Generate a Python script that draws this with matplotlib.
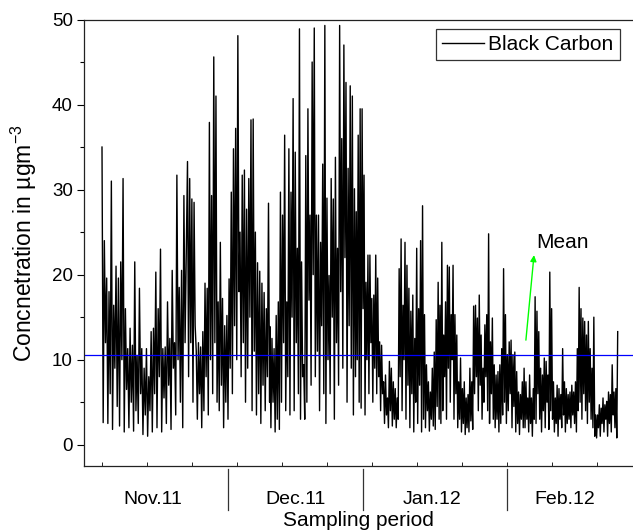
import numpy as np
import matplotlib
matplotlib.use("Agg")
import matplotlib.pyplot as plt
from matplotlib import transforms

plt.rcParams['font.family'] = ['Liberation Sans', 'DejaVu Sans']
plt.rcParams['mathtext.fontset'] = 'custom'
plt.rcParams['mathtext.rm'] = 'Liberation Sans'
plt.rcParams['mathtext.it'] = 'Liberation Sans:italic'

# ---------------- data ----------------
months = ['Nov.11', 'Dec.11', 'Jan.12', 'Feb.12']
month_bounds = [32.0, 62.0, 94.0]          # day of month change
month_centres = [15.3, 47.1, 77.3, 106.9]  # day at label centre
seg_spans = [(4.0, 22.2), (23.0, 41.0), (41.3, 60.1),
             (60.5, 78.7), (79.1, 97.4), (97.8, 118.6)]

peaks_a = [35.0, 24.0, 19.6, 18.0, 31.0, 16.4, 21.0, 19.6, 21.5, 31.3,
           16.0, 11.3, 13.7, 11.7, 21.5, 10.5, 18.4, 11.3, 9.0, 11.3,
           8.0, 13.3, 13.7, 20.3, 16.0, 23.0, 11.3, 11.5, 16.8, 12.5,
           20.5, 12.0, 31.7, 18.5, 20.5, 29.3]
troughs_a = [2.6, 12.0, 2.5, 6.0, 1.8, 9.0, 4.5, 2.2, 10.0, 1.5,
             6.5, 2.0, 5.0, 1.6, 4.0, 2.5, 6.0, 1.2, 3.5, 1.0,
             4.0, 1.5, 6.0, 2.0, 8.0, 1.5, 5.5, 2.5, 7.0, 1.8,
             9.0, 3.5, 10.0, 5.0, 2.0, 12.0]

peaks_b = [33.3, 31.3, 28.9, 28.5, 11.0, 12.0, 11.5, 13.3, 19.0, 18.4,
           37.9, 29.3, 45.6, 41.0, 16.8, 23.8, 17.2, 14.0, 15.2, 19.5,
           29.7, 34.8, 37.2, 48.1, 25.0, 31.7, 32.3, 27.7, 31.3, 38.2,
           38.3, 25.0, 21.4, 20.4, 19.0, 17.9, 16.0, 28.4]
troughs_b = [8.0, 12.0, 5.0, 14.0, 3.0, 6.0, 2.0, 4.0, 8.0, 3.5,
             10.0, 6.0, 12.0, 5.0, 4.0, 7.0, 2.0, 5.0, 3.0, 9.0,
             6.0, 14.0, 10.0, 18.0, 8.0, 12.0, 5.0, 9.0, 15.0, 4.0,
             11.0, 3.5, 6.0, 2.5, 7.0, 4.0, 8.0, 5.0]

peaks_c = [13.9, 12.5, 11.3, 15.2, 16.8, 29.7, 27.0, 36.4, 16.8, 34.8,
           29.7, 40.7, 34.4, 23.1, 48.9, 21.5, 9.4, 34.0, 39.5, 27.0,
           45.0, 49.0, 27.0, 27.0, 23.8, 33.0, 49.3, 29.0, 19.9, 31.3,
           28.9, 33.8, 23.1, 49.3, 36.0, 47.0, 42.6, 32.5, 42.2, 41.0,
           30.1]
troughs_c = [2.0, 5.0, 1.5, 3.0, 1.8, 5.0, 12.0, 4.0, 8.0, 3.5,
             15.0, 4.0, 12.0, 6.0, 3.0, 8.0, 3.0, 5.0, 17.0, 7.0,
             20.0, 8.0, 11.0, 4.0, 14.0, 6.0, 2.5, 10.0, 6.0, 15.0,
             3.0, 12.0, 7.0, 18.0, 9.0, 22.0, 5.0, 14.0, 9.0, 3.5,
             8.0]

peaks_d = [27.4, 36.4, 39.5, 39.5, 31.7, 19.1, 22.3, 22.3, 17.2, 17.6,
           22.3, 19.6, 12.1, 11.7, 7.4, 8.2, 5.5, 9.8, 9.0, 7.4,
           6.6, 5.5, 20.7, 24.2, 16.4, 23.8, 21.1, 18.4, 15.7, 17.6,
           12.5, 23.1, 16.0, 24.0, 28.1, 15.3, 9.4, 7.4, 6.2, 9.0,
           10.9, 14.7, 19.1]
troughs_d = [10.0, 5.0, 4.3, 16.0, 3.5, 10.0, 6.0, 12.0, 5.0, 9.0,
             6.0, 8.0, 4.0, 6.0, 2.5, 3.5, 2.0, 4.0, 2.2, 3.0,
             2.0, 3.0, 8.0, 4.0, 10.0, 3.0, 7.0, 2.0, 6.0, 1.5,
             5.0, 2.5, 7.0, 1.5, 3.0, 2.0, 4.0, 1.6, 3.0, 2.2,
             1.8, 4.5, 3.0]

peaks_e = [16.4, 23.8, 12.9, 16.8, 21.1, 20.9, 15.3, 21.1, 15.3, 12.9,
           7.4, 10.2, 6.6, 7.4, 5.5, 5.9, 9.0, 7.4, 16.3, 16.4,
           14.9, 17.6, 12.9, 9.0, 14.1, 15.3, 24.8, 12.1, 14.9, 9.4,
           8.2, 8.6, 9.4, 11.3, 20.7, 15.3, 10.6, 12.1, 12.3, 10.6,
           10.9, 8.6, 6.2, 5.9, 7.4]
troughs_e = [2.5, 4.0, 8.0, 3.0, 9.0, 5.0, 10.0, 3.0, 6.0, 2.0,
             3.0, 1.5, 2.5, 1.2, 2.0, 1.5, 2.8, 1.8, 6.0, 8.0,
             4.0, 7.0, 3.0, 5.0, 8.0, 4.0, 2.5, 6.0, 3.0, 2.0,
             3.0, 1.5, 2.5, 3.5, 5.0, 2.5, 4.0, 6.0, 2.0, 4.5,
             1.5, 2.5, 1.2, 3.0, 2.0]

peaks_f = [9.0, 7.4, 5.5, 8.2, 5.5, 6.6, 17.4, 15.7, 13.3, 9.0,
           8.2, 10.2, 9.8, 8.2, 20.3, 16.0, 7.4, 5.5, 7.0, 6.6,
           5.9, 11.3, 7.4, 6.6, 5.9, 6.2, 7.0, 6.2, 7.4, 11.3,
           18.5, 16.0, 14.9, 14.5, 12.9, 14.5, 11.3, 9.0, 15.0, 3.5,
           3.5, 4.7, 4.3, 5.5, 4.7, 5.1, 6.2, 5.9, 9.4, 6.2,
           6.6, 13.3]
troughs_f = [2.0, 3.0, 1.5, 2.5, 1.0, 3.0, 2.5, 6.0, 3.0, 1.5,
             4.0, 2.0, 5.0, 1.8, 4.0, 3.0, 1.5, 2.5, 1.0, 3.0,
             2.0, 3.5, 1.5, 2.5, 3.0, 2.0, 3.5, 2.5, 1.5, 4.0,
             5.0, 3.0, 6.0, 4.0, 2.5, 5.0, 3.0, 2.0, 1.0, 0.8,
             2.0, 1.0, 2.5, 1.5, 3.0, 1.0, 2.5, 1.5, 3.5, 2.0,
             0.8, 0.8]

mean_bc = 10.6
mean_arrow_from = (98.2, 12.3)
mean_arrow_to = (100.0, 22.3)
mean_text_pos = (100.4, 23.8)

all_peaks = [peaks_a, peaks_b, peaks_c, peaks_d, peaks_e, peaks_f]
all_troughs = [troughs_a, troughs_b, troughs_c, troughs_d, troughs_e, troughs_f]

# ---------------- build the series ----------------
t_all, v_all = [], []
for (s, e), pk, tr in zip(seg_spans, all_peaks, all_troughs):
    n = len(pk)
    tp = np.linspace(s, e, n)
    step = (e - s) / (n - 1)
    for i in range(n):
        t_all += [tp[i], tp[i] + step / 2]
        v_all += [pk[i], tr[i]]
t_all = np.array(t_all[:-1])
v_all = np.array(v_all[:-1])

# ---------------- figure ----------------
fig = plt.figure(figsize=(6.33, 5.32), dpi=100)
ax = fig.add_axes([84 / 633, 1 - 466 / 532, 549 / 633, 446.5 / 532])

ax.plot(t_all, v_all, color='black', lw=1.0, label='Black Carbon')
ax.axhline(mean_bc, color='#0000ff', lw=0.9)

ax.set_xlim(0, 122)
ax.set_ylim(-2.5, 50)

ax.spines['right'].set_visible(False)
for sp in ['left', 'bottom', 'top']:
    ax.spines[sp].set_linewidth(0.9)
    ax.spines[sp].set_color('#222222')

ax.set_yticks([0, 10, 20, 30, 40, 50])
ax.set_yticks([5, 15, 25, 35, 45], minor=True)
ax.tick_params(axis='y', which='major', direction='out', length=5, width=0.8,
               labelsize=13.5, pad=3)
ax.tick_params(axis='y', which='minor', direction='out', length=3, width=0.8)
ax.set_xticks(np.arange(4, 120, 10))
ax.set_xticklabels([])
ax.tick_params(axis='x', which='major', direction='in', length=3, width=0.6)

trans = transforms.blended_transform_factory(ax.transData, ax.transAxes)
for b in month_bounds:
    ax.plot([b, b], [-0.006, -0.098], color='#333333', lw=0.9,
            transform=trans, clip_on=False)
for c, m in zip(month_centres, months):
    ax.text(c, -0.075, m, transform=trans, ha='center', va='center', fontsize=14)

ax.set_xlabel('Sampling period', fontsize=15, labelpad=29)
ax.set_ylabel(r'Concnetration in µgm$^{-3}$', fontsize=16.5, labelpad=9)

ax.annotate('', xy=mean_arrow_to, xytext=mean_arrow_from,
            arrowprops=dict(arrowstyle='-|>', color='#00ff00', lw=1.0,
                            mutation_scale=9, shrinkA=0, shrinkB=0))
ax.text(mean_text_pos[0], mean_text_pos[1], 'Mean', fontsize=15,
        ha='left', va='center')

leg = ax.legend(loc='upper right', bbox_to_anchor=(0.976, 0.979),
                fontsize=15, frameon=True, fancybox=False,
                handlelength=2.0, borderaxespad=0.0, borderpad=0.3,
                handletextpad=0.2)
leg.get_frame().set_edgecolor('black')
leg.get_frame().set_linewidth(0.9)

fig.savefig('out.png', dpi=100)
